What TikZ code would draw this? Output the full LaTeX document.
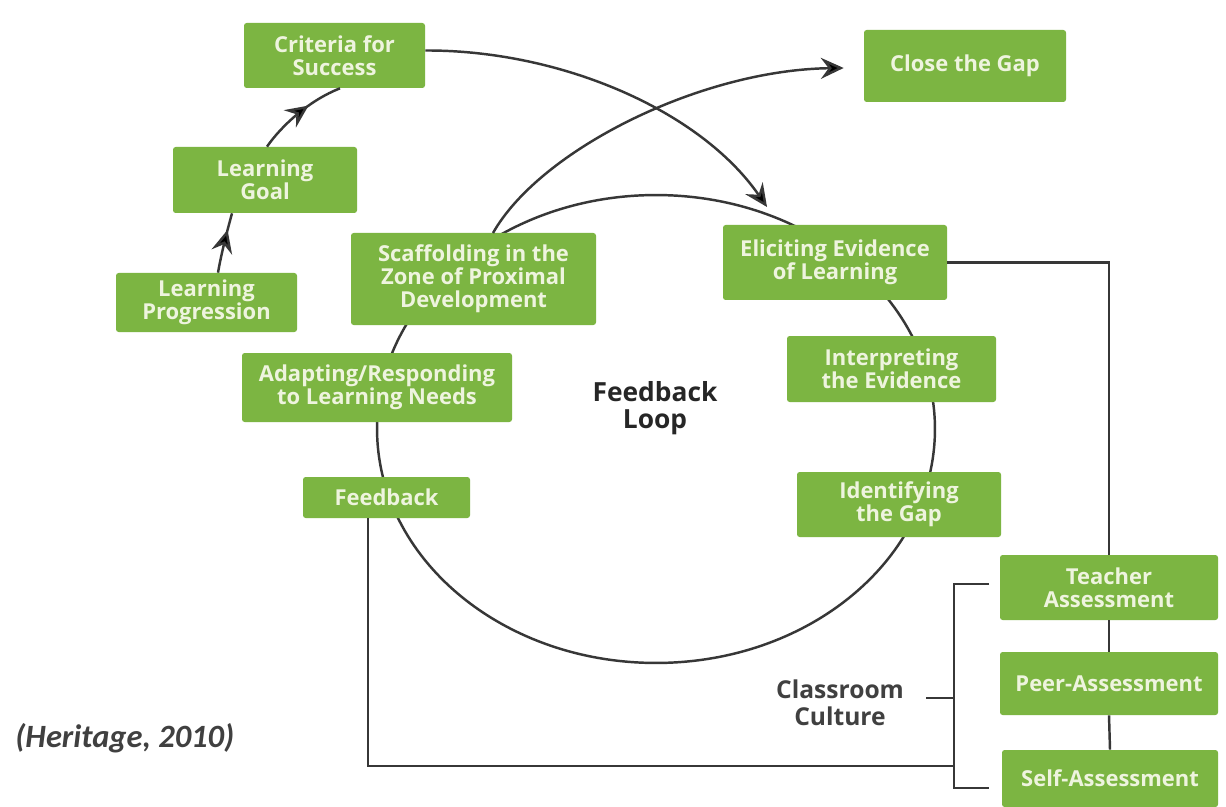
\documentclass[tikz,border=0pt]{standalone}
\usepackage{fontspec}
\setmainfont{Open Sans}
\newfontfamily\carl{Carlito}
\usetikzlibrary{arrows.meta,decorations.markings}
\definecolor{boxgreen}{RGB}{124,181,66}
\definecolor{boxtext}{RGB}{238,244,222}
\definecolor{linegray}{RGB}{55,55,55}
\newcommand\gbox[6]{\node[box, minimum width={(#4-#2)*0.02cm}, minimum height={(#5-#3)*0.02cm}] (#1) at ({(#2+#4)/2},{(#3+#5)/2}) {#6};}
\begin{document}
\begin{tikzpicture}[x=0.02cm,y=-0.02cm,
  box/.style={fill=boxgreen, text=boxtext, font=\bfseries\fontsize{12.5}{13.2}\selectfont, align=center, rounded corners=1.5pt, inner sep=0pt},
  conn/.style={draw=linegray, line width=1.4pt},
  tipend/.style={-{Stealth[length=13pt,width=12pt,inset=4.5pt,fill=black]}},
  midarrow/.style={postaction={decorate}, decoration={markings, mark=at position #1 with {\arrow{Stealth[length=13pt,width=12pt,inset=4.5pt,fill=black]}}}},
  lbl/.style={font=\bfseries\fontsize{15}{15.5}\selectfont, align=center, text=black!85}
]
\fill[white] (0,0) rectangle (1226,807);
\useasboundingbox (0,0) rectangle (1226,807);

% feedback loop ellipse (behind boxes)
\draw[conn] (656,429) ellipse [x radius=5.58cm, y radius=4.68cm];

% boxes
\gbox{crit}{244}{23}{425}{88}{Criteria for\\Success}
\gbox{goal}{173}{147}{357}{213}{Learning\\Goal}
\gbox{prog}{116}{273}{297}{332}{Learning\\Progression}
\gbox{scaf}{351}{233}{596}{325}{Scaffolding in the\\Zone of Proximal\\Development}
\gbox{close}{864}{30}{1066}{102}{Close the Gap}
\gbox{elic}{723}{225}{947}{300}{Eliciting Evidence\\of Learning}
\gbox{interp}{787}{336}{996}{402}{Interpreting\\the Evidence}
\gbox{ident}{797}{472}{1001}{537}{Identifying\\the Gap}
\gbox{adapt}{242}{353}{512}{422}{Adapting/Responding\\to Learning Needs}
\gbox{fb}{303}{477}{470}{518}{Feedback}
\gbox{teach}{1000}{555}{1218}{620}{Teacher\\Assessment}
\gbox{peer}{1000}{652}{1218}{715}{Peer-Assessment}
\gbox{self}{1002}{750}{1218}{807}{Self-Assessment}

% labels
\node[lbl] (loop) at (655,408) {Feedback\\Loop};
\node[lbl, font=\bfseries\fontsize{14}{15.5}\selectfont, text=black!75] (culture) at (840,703) {Classroom\\Culture};
\node[font=\carl\bfseries\itshape\fontsize{18.5}{20}\selectfont, text=black!75, anchor=west, inner sep=0pt] (cite) at (15,738) {(Heritage, 2010)};

% arrows on the left
\draw[conn, midarrow=0.72] ([xshift=0.23cm]prog.north) .. controls (222,250) and (228,228) .. ([xshift=-0.66cm]goal.south);
\draw[conn, midarrow=0.62] ([xshift=0.04cm]goal.north) .. controls (282,125) and (310,100) .. ([xshift=0.11cm]crit.south);

% crossing arrows
\draw[conn, tipend] ([yshift=0.1cm]crit.east) .. controls (560,50) and (700,110) .. (767,207);
\coordinate (scaftop) at (493,233);
\draw[conn, tipend] (scaftop) .. controls (540,150) and (700,70) .. ([xshift=-0.4cm,yshift=-0.04cm]close.west);

% right side chain
\draw[conn] (elic.east) -| (teach.north);
\draw[conn] (teach.south) -- (peer.north);
\draw[conn] (peer.south) -- (self.north);

% classroom culture bracket
\coordinate (btop) at (954,584);
\coordinate (bbot) at (954,788);
\coordinate (bmid) at (954,698);
\draw[conn] (989,584) -- (btop) -- (bbot) -- (989,788);
\draw[conn] (926,698) -- (bmid);
\coordinate (fbout) at (368,518);
\draw[conn] (fbout) -- (368,766) -- (954,766);
\end{tikzpicture}
\end{document}
